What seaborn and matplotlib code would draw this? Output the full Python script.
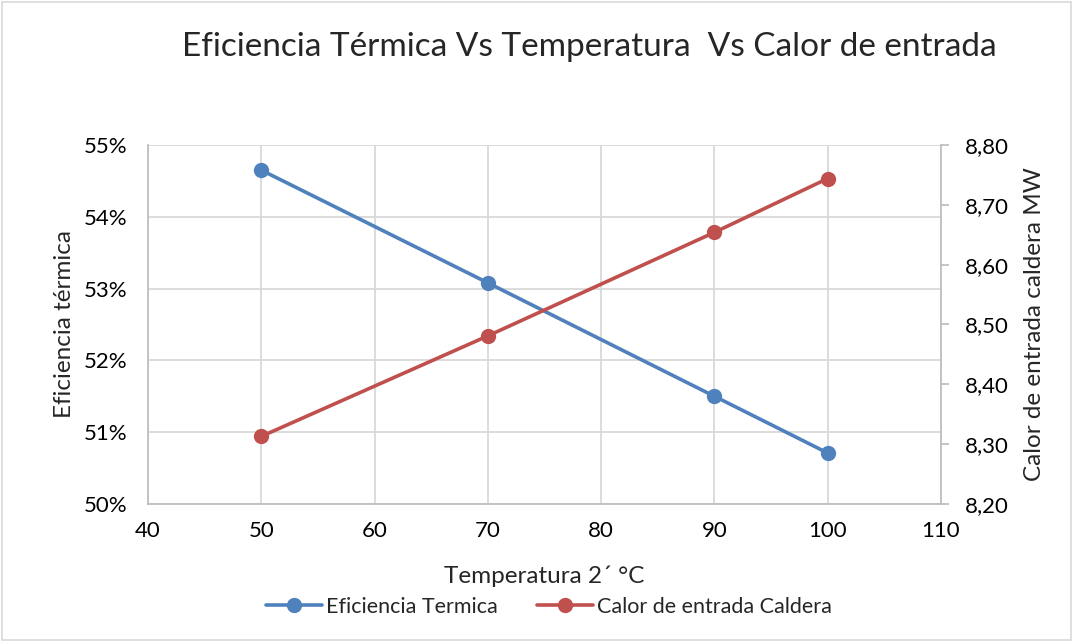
import matplotlib
matplotlib.use("Agg")
import matplotlib.pyplot as plt
from matplotlib.ticker import FuncFormatter, MultipleLocator
from matplotlib.patches import Rectangle
import seaborn as sns
import pandas as pd

# Data
temperatura = [50, 70, 90, 100]
eficiencia = [0.5465, 0.5308, 0.5150, 0.5071]
calor_entrada = [8.313, 8.481, 8.654, 8.744]

x_ticks = [40, 50, 60, 70, 80, 90, 100, 110]

BLUE = "#4F81BD"
RED = "#C0504D"
GRID = "#D9D9D9"
SPINE = "#BFBFBF"

sns.set_theme(style="white")
plt.rcParams["font.family"] = ["Lato", "DejaVu Sans"]

df = pd.DataFrame({"T": temperatura, "ef": eficiencia, "q": calor_entrada})

fig = plt.figure(figsize=(10.73, 6.42), dpi=100)
ax = fig.add_axes([148 / 1073, 1 - 504 / 642, (941 - 148) / 1073, (504 - 145) / 642])
ax2 = ax.twinx()

sns.lineplot(data=df, x="T", y="ef", ax=ax, color=BLUE, marker="o", markersize=11,
             markeredgewidth=0, linewidth=2.6, label="Eficiencia Termica", legend=False)
sns.lineplot(data=df, x="T", y="q", ax=ax2, color=RED, marker="o", markersize=11,
             markeredgewidth=0, linewidth=2.6, label="Calor de entrada Caldera", legend=False)

ax.set_xlim(40, 110)
ax.set_xticks(x_ticks)
ax.set_ylim(0.50, 0.55)
ax.yaxis.set_major_locator(MultipleLocator(0.01))
ax.yaxis.set_major_formatter(FuncFormatter(lambda v, p: f"{v * 100:.0f}%"))
ax2.set_ylim(8.20, 8.80)
ax2.yaxis.set_major_locator(MultipleLocator(0.1))
ax2.yaxis.set_major_formatter(FuncFormatter(lambda v, p: f"{v:.2f}".replace(".", ",")))

ax.grid(True, color=GRID, linewidth=1.3)
ax.set_axisbelow(True)
ax2.grid(False)

for a in (ax, ax2):
    for s in a.spines.values():
        s.set_visible(False)
ax.spines["left"].set_visible(True)
ax.spines["bottom"].set_visible(True)
ax2.spines["right"].set_visible(True)
for s in (ax.spines["left"], ax.spines["bottom"], ax2.spines["right"]):
    s.set_color(SPINE)
    s.set_linewidth(1.3)

ax.tick_params(axis="both", length=0, labelsize=16, colors="#000000")
ax.tick_params(axis="y", pad=15)
ax.tick_params(axis="x", pad=12)
ax2.tick_params(axis="y", length=6, width=1.3, color=SPINE, labelsize=16,
                labelcolor="#000000", pad=11)

ax.set_xlabel("Temperatura 2´ °C", fontsize=17.5, labelpad=18)
ax.set_ylabel("Eficiencia térmica", fontsize=17.5, labelpad=6)
ax2.set_ylabel("Calor de entrada caldera MW", fontsize=17.5, labelpad=11)

fig.text(589 / 1073, 1 - 47 / 642, "Eficiencia Térmica Vs Temperatura  Vs Calor de entrada",
         ha="center", va="center", fontsize=24)

h1, l1 = ax.get_legend_handles_labels()
h2, l2 = ax2.get_legend_handles_labels()
fig.legend(h1 + h2, l1 + l2, loc="center", bbox_to_anchor=(549 / 1073, 1 - 607 / 642),
           ncol=2, frameon=False, fontsize=15.5, handlelength=2.6, columnspacing=1.8,
           handletextpad=0.2)

fig.patches.append(Rectangle((2 / 1073, 2 / 642), 1 - 4 / 1073, 1 - 4 / 642,
                             transform=fig.transFigure, fill=False,
                             edgecolor="#D9D9D9", linewidth=1.2))

fig.savefig("out.png", dpi=100, facecolor="white")
